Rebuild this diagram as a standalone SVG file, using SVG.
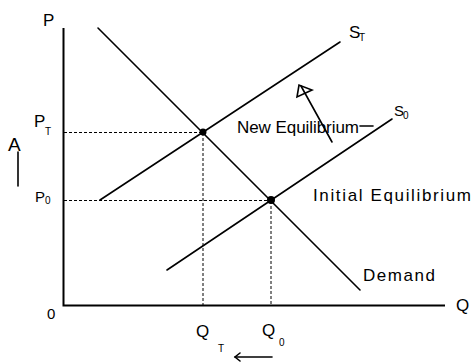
<svg xmlns="http://www.w3.org/2000/svg" width="474" height="362" viewBox="0 0 474 362">
<style>
.ln{stroke:#000;stroke-width:1.6;fill:none;stroke-linecap:round}
.ax{stroke:#000;stroke-width:2;fill:none}
.ds{stroke:#000;stroke-width:1;stroke-dasharray:3,2;fill:none}
.t{font-family:"Liberation Sans",Arial,sans-serif;fill:#000}
.big{font-size:17px}
.med{font-size:15px}
.sm{font-size:10px}
</style>
<rect width="474" height="362" fill="#fff"/>
<g id="connectors">
<path class="ax" d="M63.5,28 V305.5 H445"/>
<path class="ds" d="M64,132.5 H203 M64,200.5 H271 M203,133 V305 M271,201 V305"/>
<line class="ln" x1="98" y1="28" x2="360" y2="290"/>
<line class="ln" x1="100" y1="200" x2="340" y2="42"/>
<line class="ln" x1="167" y1="270" x2="392" y2="119"/>
<line class="ln" x1="332" y1="142" x2="301" y2="86"/>
<path class="ln" d="M297,97 L299,85 L312,90 Z"/>
<line class="ln" x1="18" y1="186" x2="18" y2="152"/>
<line class="ln" x1="235" y1="357" x2="272" y2="357"/>
<path class="ln" d="M240,353 L235,357 L240,361"/>
<path class="ln" d="M360,126 H373"/>
</g>
<g id="eq-new"><circle cx="203" cy="132" r="3.5" fill="#000"/></g>
<g id="eq-initial"><circle cx="271" cy="200" r="4" fill="#000"/></g>
<g id="labels">
<text class="t big" x="43" y="26">P</text>
<text class="t big" x="349" y="38">S</text><text class="t sm" x="359" y="41">T</text>
<text class="t med" x="394" y="116">S</text><text class="t sm" x="403" y="119">0</text>
<text class="t big" x="34" y="127">P</text><text class="t sm" x="45" y="135">T</text>
<text class="t med" x="35" y="202">P</text><text class="t sm" x="45" y="204">0</text>
<text class="t big" x="8" y="151" style="font-size:19px">A</text>
<text class="t big" x="237" y="133" textLength="122">New Equilibrium</text>
<text class="t big" x="313" y="201" textLength="158">Initial Equilibrium</text>
<text class="t big" x="363" y="281" textLength="72">Demand</text>
<text class="t big" x="456" y="311">Q</text>
<text class="t med" x="47" y="319">0</text>
<text class="t big" x="196" y="337">Q</text><text class="t sm" x="218" y="352">T</text>
<text class="t big" x="262" y="336">Q</text><text class="t sm" x="279" y="346">0</text>
</g>
</svg>
